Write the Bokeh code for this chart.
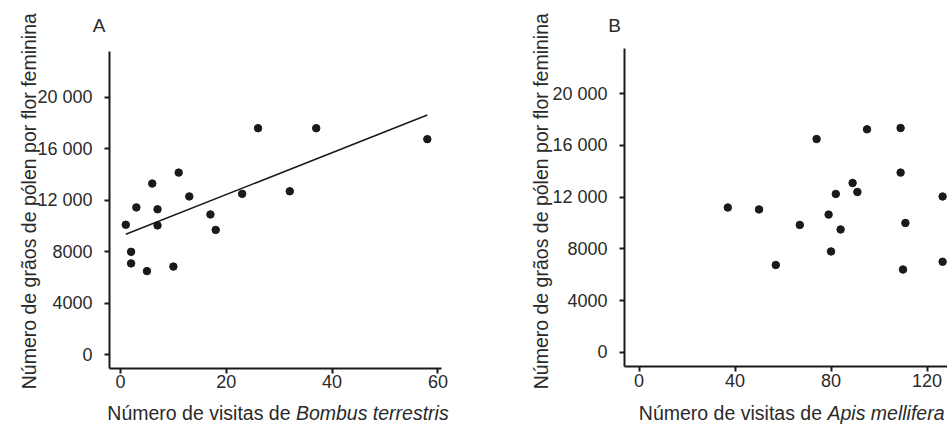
import math
from bokeh.plotting import figure
from bokeh.layouts import row
from bokeh.models import FixedTicker, Label, Range1d
from bokeh.embed import file_html
from bokeh.resources import INLINE

# ---------------- data ----------------
bombus_visits = [1, 2, 2, 3, 5, 6, 7, 7, 10, 11, 13, 17, 18, 23, 26, 32, 37, 58]
bombus_pollen = [10100, 8000, 7100, 11450, 6500, 13300, 11300, 10050, 6850,
                 14150, 12300, 10900, 9700, 12500, 17600, 12700, 17600, 16750]
fit_visits = [1, 58]
fit_pollen = [9360, 18630]

apis_visits = [37, 50, 57, 67, 74, 79, 80, 82, 84, 89, 91, 95, 109, 109, 111, 110, 126.5, 126.5]
apis_pollen = [11200, 11050, 6750, 9850, 16500, 10650, 7800, 12250, 9500,
               13100, 12400, 17250, 17350, 13900, 10000, 6400, 12050, 7000]

y_ticks = [0, 4000, 8000, 12000, 16000, 20000]
y_tick_labels = ["0", "4000", "8000", "12 000", "16 000", "20 000"]
bombus_ticks = [0, 20, 40, 60]
apis_ticks = [0, 40, 80, 120]

y_title = "Número de grãos de pólen por flor feminina"
x_title_plain = "Número de visitas de"
bombus_name = "Bombus terrestris"
apis_name = "Apis mellifera"

# ---------------- styling ----------------
FONT = "Liberation Sans"
INK = "#1a1a1a"
TEXT = "#2a2a2a"
H = 425
XLAB_BASE = 412.5


class Panel:
    """A figure whose frame fills the whole canvas; the axes sit at fixed data
    locations and are trimmed with bounds, so free text can live anywhere."""

    def __init__(self, width, xr, yr, x_axis_at, y_axis_at, x_bounds, y_bounds, xticks):
        self.W, self.xr, self.yr = width, xr, yr
        p = figure(width=width, height=H, x_range=Range1d(*xr), y_range=Range1d(*yr),
                   output_backend="svg", toolbar_location=None, tools="", min_border=0)
        p.grid.visible = False
        p.outline_line_color = None
        p.background_fill_color = "white"
        p.border_fill_color = "white"
        for ax in (p.xaxis[0], p.yaxis[0]):
            ax.axis_line_width = 2
            ax.axis_line_color = INK
            ax.major_tick_line_width = 2
            ax.major_tick_line_color = INK
            ax.major_tick_out = 5
            ax.major_tick_in = 0
            ax.minor_tick_line_color = None
            ax.major_label_text_font = FONT
            ax.major_label_text_font_size = "18px"
            ax.major_label_text_color = TEXT
        p.xaxis.fixed_location = x_axis_at
        p.yaxis.fixed_location = y_axis_at
        p.xaxis.bounds = x_bounds
        p.yaxis.bounds = y_bounds
        p.yaxis.major_label_standoff = 12
        p.xaxis.major_label_standoff = 2
        p.yaxis.ticker = FixedTicker(ticks=y_ticks)
        p.yaxis.major_label_overrides = {t: s for t, s in zip(y_ticks, y_tick_labels)}
        p.xaxis.ticker = FixedTicker(ticks=xticks)
        self.p = p

    def at(self, px, py):
        x = self.xr[0] + px / self.W * (self.xr[1] - self.xr[0])
        y = self.yr[0] + (H - py) / H * (self.yr[1] - self.yr[0])
        return x, y

    def text(self, px, py, text, size="19.5px", align="left", angle=0.0, style="normal"):
        x, y = self.at(px, py)
        self.p.add_layout(Label(x=x, y=y, text=text, text_font=FONT, text_font_size=size,
                                text_color=TEXT, text_align=align, text_baseline="alphabetic",
                                text_font_style=style, angle=angle))


# ---------------- panel A (canvas x 0..500) ----------------
A = Panel(500, (-22.684, 71.834), (-5491.3, 27518.4),
          x_axis_at=-1064, y_axis_at=-2.08,
          x_bounds=(-2.08, 60.68), y_bounds=(-1064, 23557), xticks=bombus_ticks)
A.p.scatter(bombus_visits, bombus_pollen, size=7.5, color=INK, line_color=INK)
A.p.line(fit_visits, fit_pollen, line_width=1.6, line_color=INK)
A.text(98.7, 25, "A", size="19px", align="center")
A.text(28.3, 200.7, y_title, align="center", angle=math.pi / 2)
A.text(290, XLAB_BASE, x_title_plain, align="right")
A.text(295.4, XLAB_BASE, bombus_name, align="left", style="italic")

# ---------------- panel B (canvas x 500..947) ----------------
B = Panel(447, (-57.71, 128.54), (-5673.4, 27221.0),
          x_axis_at=-1107, y_axis_at=-6.04,
          x_bounds=(-6.04, 128.54), y_bounds=(-1107, 23506), xticks=apis_ticks)
B.p.scatter(apis_visits, apis_pollen, size=7.5, color=INK, line_color=INK)
B.text(114, 24.5, "B", size="19px", align="center")
B.text(40.7, 200.7, y_title, align="center", angle=math.pi / 2)
B.text(321.5, XLAB_BASE, x_title_plain, align="right")
B.text(327, XLAB_BASE, apis_name, align="left", style="italic")

layout = row(A.p, B.p, spacing=0)
open("out.html", "w").write(file_html(layout, INLINE))
